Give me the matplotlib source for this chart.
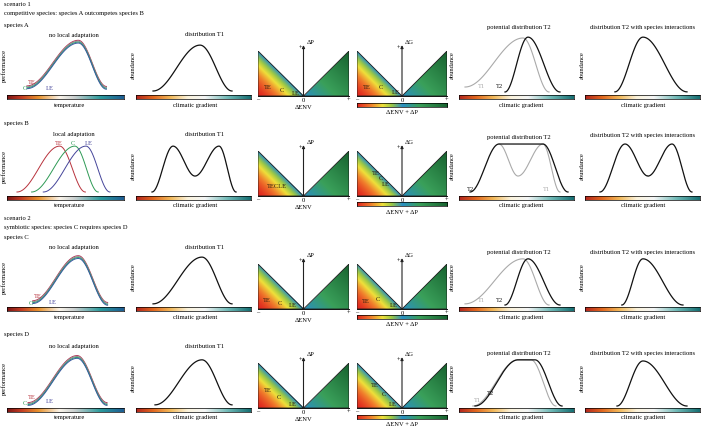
import numpy as np
import matplotlib
matplotlib.use('Agg')
import matplotlib.pyplot as plt
from matplotlib.colors import LinearSegmentedColormap
from matplotlib.patches import Polygon

plt.rcParams['font.family'] = ['Liberation Serif', 'DejaVu Serif']

# ---- data: curve key points (x along gradient 0-1, y = performance/abundance 0-1) ----
# col 1: performance along temperature
perf_A_x = [0.17, 0.61, 0.85]
perf_A_y = [0.10, 0.90, 0.09]
perf_C_x = [0.22, 0.61, 0.86]
perf_C_y = [0.05, 0.84, 0.02]
perf_D_x = [0.18, 0.60, 0.855]
perf_D_y = [0.035, 0.86, 0.035]
perf_B_TE_x = [0.085, 0.45, 0.67]
perf_B_C_x = [0.21, 0.58, 0.78]
perf_B_LE_x = [0.31, 0.675, 0.88]
perf_B_y = [0.035, 0.84, 0.035]

# col 2: distribution T1
t1_A_x = [0.148, 0.557, 0.835]
t1_A_y = [0.035, 0.84, 0.035]
t1_B_x = [0.139, 0.322, 0.513, 0.722, 0.87]
t1_B_y = [0.035, 0.84, 0.315, 0.84, 0.035]
t1_C_x = [0.148, 0.574, 0.835]
t1_C_y = [0.02, 0.84, 0.02]
t1_D_x = [0.165, 0.574, 0.835]
t1_D_y = [0.02, 0.81, 0.02]

# col 5: potential distribution T2 (grey = T1, black = T2)
pot_A_t1_x = [0.052, 0.557, 0.783]
pot_A_t1_y = [0.105, 0.965, 0.018]
pot_A_t2_x = [0.40, 0.60, 0.878]
pot_A_t2_y = [0.018, 0.98, 0.018]
pot_B_t1_x = [0.348, 0.513, 0.730, 0.878]
pot_B_t1_y = [0.877, 0.315, 0.877, 0.035]
pot_B_t2_x = [0.096, 0.348, 0.730, 0.948]
pot_B_t2_y = [0.035, 0.877, 0.877, 0.035]
pot_C_t1_x = [0.052, 0.557, 0.783]
pot_C_t1_y = [0.02, 0.81, 0.0]
pot_C_t2_x = [0.40, 0.60, 0.878]
pot_C_t2_y = [0.0, 0.81, 0.0]
pot_D_t1_x = [0.12, 0.513, 0.626, 0.843]
pot_D_t1_y = [0.0, 0.81, 0.81, 0.0]
pot_D_t2_x = [0.139, 0.513, 0.661, 0.896]
pot_D_t2_y = [0.0, 0.81, 0.81, 0.0]

# col 6: distribution T2 with species interactions
int_A_x = [0.26, 0.504, 0.887]
int_A_y = [0.02, 0.98, 0.02]
int_B_x = [0.13, 0.348, 0.548, 0.757, 0.93]
int_B_y = [0.035, 0.877, 0.315, 0.877, 0.035]
int_C_x = [0.32, 0.504, 0.852]
int_C_y = [0.0, 0.81, 0.0]
int_D_x = [0.278, 0.504, 0.887]
int_D_y = [0.0, 0.79, 0.0]

# label positions
perf_lab = [
    [(0.21, 0.21), (0.155, 0.09), (0.37, 0.105)],
    [(0.44, 0.91), (0.56, 0.91), (0.70, 0.91)],
    [(0.265, 0.175), (0.20, 0.05), (0.39, 0.07)],
    [(0.21, 0.175), (0.155, 0.07), (0.37, 0.09)],
]
pot_lab = [
    [(0.20, 0.14), (0.348, 0.14)],   # T1, T2
    [(0.765, 0.088), (0.096, 0.105)],
    [(0.20, 0.10), (0.35, 0.10)],
    [(0.165, 0.12), (0.27, 0.245)],
]
# TE / C / LE positions inside the triangles (dENV, dP)
tri_lab_P = [
    [(-0.79, 0.20), (-0.48, 0.155), (-0.18, 0.067)],
    None,
    [(-0.80, 0.20), (-0.53, 0.155), (-0.24, 0.09)],
    [(-0.79, 0.40), (-0.55, 0.245), (-0.24, 0.09)],
]
tri_lab_G = [
    [(-0.78, 0.20), (-0.47, 0.20), (-0.13, 0.09)],
    [(-0.58, 0.52), (-0.47, 0.40), (-0.36, 0.28)],
    [(-0.80, 0.18), (-0.53, 0.24), (-0.18, 0.09)],
    [(-0.60, 0.53), (-0.40, 0.33), (-0.20, 0.09)],
]

eco = ['TE', 'C', 'LE']
eco_col = ['#b8323c', '#2e9a55', '#45459a']

# ---- layout (pixels) ----
W, H = 701, 431
FS = 4.7
curve_top = [37, 138, 249, 350]
curve_bot = [94, 195, 306, 407]
cb_y = [96, 197, 308, 409]
xlab_y = [105, 206, 318, 418]
tri_top = [52, 152, 265, 364]
tri_bot = [97, 197, 310, 409]
cb4_y = [104, 203, 316, 416]
title_y12 = [35, 135, 248, 347]
title_y5 = [28, 137, 253, 353]
title_y6 = [28, 136, 253, 353]
species_y = [25, 123, 238, 335]
species = ['species A', 'species B', 'species C', 'species D']
col1 = (7, 124)
col2 = (136, 251)
col3 = (258, 349)
col4 = (357, 447)
col5 = (459, 574)
col6 = (585, 700)

cmap_temp = LinearSegmentedColormap.from_list('temp', [
    (0, '#7d1616'), (0.12, '#c23b22'), (0.27, '#e8932e'), (0.45, '#faf4ea'),
    (0.58, '#c9cfcf'), (0.8, '#2b9a9c'), (1, '#1d5d93')])
cmap_clim = LinearSegmentedColormap.from_list('clim', [
    (0, '#b3261e'), (0.15, '#e2681f'), (0.3, '#f2b95a'), (0.45, '#fbf3dc'),
    (0.6, '#f4f6f6'), (0.8, '#6fb9b6'), (1, '#156e72')])
cmap_spec = LinearSegmentedColormap.from_list('spec', [
    (0, '#e0261f'), (0.15, '#f07d2c'), (0.28, '#efe03a'), (0.38, '#9cc845'),
    (0.5, '#2a8fc4'), (0.68, '#3aa05a'), (1, '#17622f')])

fig = plt.figure(figsize=(W / 100, H / 100), dpi=100)


def box(x0, y0, x1, y1):
    return fig.add_axes([x0 / W, 1 - y1 / H, (x1 - x0) / W, (y1 - y0) / H])


def txt(x, y, s, **kw):
    kw.setdefault('fontsize', FS)
    kw.setdefault('ha', 'center')
    kw.setdefault('va', 'center')
    fig.text(x / W, 1 - y / H, s, **kw)


def smooth(xs, ys, n=60):
    # cosine easing between key points
    px, py = [], []
    t = np.linspace(0, 1, n)
    s = (1 - np.cos(np.pi * t)) / 2
    for i in range(len(xs) - 1):
        px.append(xs[i] + (xs[i + 1] - xs[i]) * t)
        py.append(ys[i] + (ys[i + 1] - ys[i]) * s)
    return np.concatenate(px), np.concatenate(py)


def curve_ax(col, r):
    ax = box(col[0], curve_top[r], col[1], curve_bot[r])
    ax.set_xlim(0, 1)
    ax.set_ylim(0, 1)
    ax.axis('off')
    return ax


def cbar(x0, x1, y0, y1, cmap):
    ax = box(x0, y0, x1, y1)
    ax.imshow(np.linspace(0, 1, 256)[None, :], aspect='auto', cmap=cmap, extent=(0, 1, 0, 1))
    ax.set_xticks([])
    ax.set_yticks([])
    for sp in ax.spines.values():
        sp.set_linewidth(0.5)


def triangles(col, r, label, labs):
    ax = box(col[0], tri_top[r], col[1], tri_bot[r])
    ax.set_xlim(-1, 1)
    ax.set_ylim(0, 1)
    ax.axis('off')
    gx, gy = np.meshgrid(np.linspace(-1, 1, 400), np.linspace(0, 1, 200))
    s = gx + gy
    u = np.clip(1 + s, 0, 1)
    val = np.where(gx < 0, 0.5 * u ** 1.5, 0.5 + s / 4)
    for verts in [[(-1, 1), (-1, 0), (0, 0)], [(0, 0), (1, 0), (1, 1)]]:
        im = ax.imshow(val, extent=(-1, 1, 0, 1), origin='lower', cmap=cmap_spec,
                       vmin=0, vmax=1, aspect='auto')
        poly = Polygon(verts, closed=True, fc='none', ec='#1a1a1a', lw=0.6)
        ax.add_patch(poly)
        im.set_clip_path(poly)
    ax.plot([-1, 1], [0, 0], color='#111111', lw=0.7, clip_on=False)
    ax.annotate('', xy=(0, 1.13), xytext=(0, 0), annotation_clip=False,
                arrowprops=dict(arrowstyle='-|>', lw=0.8, color='#222222',
                                mutation_scale=4, shrinkA=0, shrinkB=0))
    ax.text(0.16, 1.22, label, fontsize=FS, ha='center', va='center')
    ax.text(-0.07, 1.08, '+', fontsize=FS, ha='center', va='center')
    for xv, s_ in zip([-1, 0, 1], ['–', '0', '+']):
        ax.text(xv, -0.07, s_, fontsize=FS, ha='center', va='center')
    if labs is None:
        ax.text(-0.59, 0.24, 'TECLE', fontsize=FS, ha='center', va='center', color='#2b1d0e')
    else:
        for (lx, ly), s_ in zip(labs, eco):
            ax.text(lx, ly, s_, fontsize=FS, ha='center', va='center', color='#2b1d0e')


# ---- header texts ----
txt(4, 4, 'scenario 1', ha='left')
txt(4, 13, 'competitive species: species A outcompetes species B', ha='left')
txt(4, 219, 'scenario 2', ha='left')
txt(4, 228, 'symbiotic species: species C requires species D', ha='left')

perf_single = [(perf_A_x, perf_A_y), None, (perf_C_x, perf_C_y), (perf_D_x, perf_D_y)]
t1_curves = [(t1_A_x, t1_A_y), (t1_B_x, t1_B_y), (t1_C_x, t1_C_y), (t1_D_x, t1_D_y)]
pot_t1 = [(pot_A_t1_x, pot_A_t1_y), (pot_B_t1_x, pot_B_t1_y), (pot_C_t1_x, pot_C_t1_y), (pot_D_t1_x, pot_D_t1_y)]
pot_t2 = [(pot_A_t2_x, pot_A_t2_y), (pot_B_t2_x, pot_B_t2_y), (pot_C_t2_x, pot_C_t2_y), (pot_D_t2_x, pot_D_t2_y)]
int_curves = [(int_A_x, int_A_y), (int_B_x, int_B_y), (int_C_x, int_C_y), (int_D_x, int_D_y)]

for r in range(4):
    mid = (curve_top[r] + curve_bot[r]) / 2
    txt(4, species_y[r], species[r], ha='left')

    # col 1: performance
    ax = curve_ax(col1, r)
    if perf_single[r] is not None:
        xs, ys = perf_single[r]
        for off, c in [(0.025, '#b03a58'), (0.009, '#8c8c8c'), (-0.008, '#2e9a70'), (-0.024, '#3a5aa0')]:
            px, py = smooth(xs, ys)
            ax.plot(px, py + off, color=c, lw=0.7, clip_on=False)
        title = 'no local adaptation'
    else:
        for xs, c in zip([perf_B_TE_x, perf_B_C_x, perf_B_LE_x], eco_col):
            px, py = smooth(xs, perf_B_y)
            ax.plot(px, py, color=c, lw=0.7, clip_on=False)
        title = 'local adaptation'
    for (lx, ly), s_, c in zip(perf_lab[r], eco, eco_col):
        ax.text(lx, ly, s_, fontsize=FS, color=c, ha='center', va='center')
    txt(74, title_y12[r], title)
    txt(4, mid, 'performance', rotation=90)
    cbar(col1[0], col1[1], cb_y[r], cb_y[r] + 4, cmap_temp)
    txt(70, xlab_y[r], 'temperature')

    # col 2: distribution T1
    ax = curve_ax(col2, r)
    px, py = smooth(*t1_curves[r])
    ax.plot(px, py, color='#111111', lw=0.9, clip_on=False)
    txt(205, title_y12[r], 'distribution T1')
    txt(133, mid, 'abundance', rotation=90)
    cbar(col2[0], col2[1], cb_y[r], cb_y[r] + 4, cmap_clim)
    txt(195, xlab_y[r], 'climatic gradient')

    # col 3 / col 4: triangles
    triangles(col3, r, 'ΔP', tri_lab_P[r])
    txt((col3[0] + col3[1]) / 2, tri_bot[r] + 11, 'ΔENV')
    triangles(col4, r, 'ΔG', tri_lab_G[r])
    cbar(col4[0], col4[1], cb4_y[r], cb4_y[r] + 4, cmap_spec)
    txt((col4[0] + col4[1]) / 2, cb4_y[r] + 9, 'ΔENV + ΔP')

    # col 5: potential distribution T2
    ax = curve_ax(col5, r)
    px, py = smooth(*pot_t1[r])
    ax.plot(px, py, color='#aaaaaa', lw=0.8, clip_on=False)
    px, py = smooth(*pot_t2[r])
    ax.plot(px, py, color='#111111', lw=0.9, clip_on=False)
    (l1x, l1y), (l2x, l2y) = pot_lab[r]
    ax.text(l1x, l1y, 'T1', fontsize=FS, color='#aaaaaa', ha='center', va='center')
    ax.text(l2x, l2y, 'T2', fontsize=FS, color='#111111', ha='center', va='center')
    txt(519, title_y5[r], 'potential distribution T2')
    txt(452, mid, 'abundance', rotation=90)
    cbar(col5[0], col5[1], cb_y[r], cb_y[r] + 4, cmap_clim)
    txt(521, xlab_y[r], 'climatic gradient')

    # col 6: distribution T2 with species interactions
    ax = curve_ax(col6, r)
    px, py = smooth(*int_curves[r])
    ax.plot(px, py, color='#111111', lw=0.9, clip_on=False)
    txt(643, title_y6[r], 'distribution T2 with species interactions')
    txt(582, mid, 'abundance', rotation=90)
    cbar(col6[0], col6[1], cb_y[r], cb_y[r] + 4, cmap_clim)
    txt(643, xlab_y[r], 'climatic gradient')

fig.savefig('out.png', dpi=100)
